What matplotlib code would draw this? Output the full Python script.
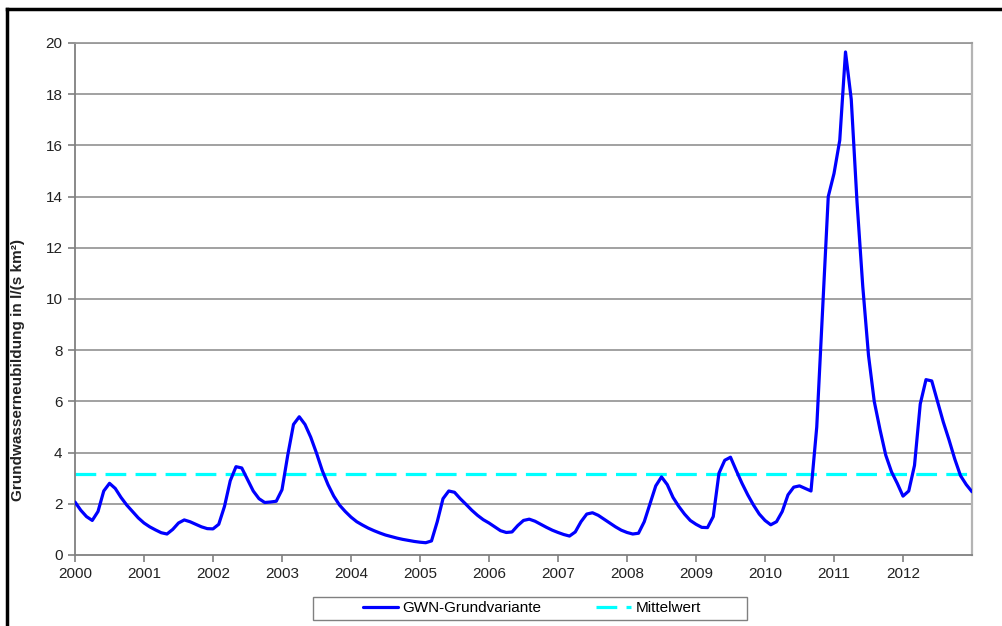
'''Grundwasserneubildung 2000-2012, Monatswerte mit Mittelwert'''
import matplotlib
matplotlib.use('Agg')
import matplotlib.pyplot as plt
from matplotlib.lines import Line2D
from matplotlib.patches import Rectangle

plt.rcParams['font.family'] = ['Liberation Sans', 'DejaVu Sans']

# Monatswerte ab Januar 2000, in l/(s km²)
gwn_2000 = [2.07, 1.75, 1.5, 1.35, 1.7, 2.5, 2.8, 2.6, 2.25, 1.95, 1.7, 1.45]
gwn_2001 = [1.25, 1.1, 0.98, 0.87, 0.82, 1.0, 1.25, 1.37, 1.3, 1.2, 1.1, 1.03]
gwn_2002 = [1.02, 1.2, 1.9, 2.9, 3.45, 3.4, 2.95, 2.5, 2.2, 2.05, 2.07, 2.1]
gwn_2003 = [2.55, 3.9, 5.1, 5.4, 5.1, 4.6, 3.98, 3.3, 2.75, 2.3, 1.95, 1.7]
gwn_2004 = [1.48, 1.3, 1.17, 1.05, 0.95, 0.86, 0.78, 0.72, 0.66, 0.61, 0.57, 0.53]
gwn_2005 = [0.5, 0.48, 0.55, 1.3, 2.2, 2.5, 2.45, 2.2, 1.98, 1.75, 1.55, 1.38]
gwn_2006 = [1.25, 1.1, 0.95, 0.88, 0.9, 1.15, 1.35, 1.4, 1.32, 1.2, 1.08, 0.97]
gwn_2007 = [0.88, 0.8, 0.74, 0.9, 1.3, 1.6, 1.65, 1.55, 1.4, 1.25, 1.1, 0.97]
gwn_2008 = [0.88, 0.82, 0.85, 1.3, 2.0, 2.7, 3.05, 2.75, 2.25, 1.9, 1.6, 1.35]
gwn_2009 = [1.2, 1.08, 1.07, 1.5, 3.2, 3.7, 3.82, 3.3, 2.8, 2.35, 1.95, 1.6]
gwn_2010 = [1.35, 1.18, 1.3, 1.7, 2.35, 2.65, 2.7, 2.6, 2.5, 5.0, 9.5, 14.0]
gwn_2011 = [14.9, 16.2, 19.65, 17.8, 13.8, 10.5, 7.8, 6.0, 4.9, 3.9, 3.25, 2.8]
gwn_2012 = [2.3, 2.5, 3.5, 5.9, 6.85, 6.8, 6.0, 5.2, 4.5, 3.75, 3.1, 2.75, 2.47]

mittelwert = 3.15
jahre = list(range(2000, 2013))
y_ticks = list(range(0, 21, 2))

gwn = (gwn_2000 + gwn_2001 + gwn_2002 + gwn_2003 + gwn_2004 + gwn_2005 + gwn_2006
       + gwn_2007 + gwn_2008 + gwn_2009 + gwn_2010 + gwn_2011 + gwn_2012)
zeit = [2000 + i / 12 for i in range(len(gwn))]

fig = plt.figure(figsize=(10.02, 6.26), dpi=100)
ax = fig.add_axes([75 / 1002, 71 / 626, 897 / 1002, 512 / 626])

for y in y_ticks[1:]:
    ax.axhline(y, color='#9a9a9a', lw=1.3, zorder=1)

ax.plot(zeit, gwn, color='#0000ff', lw=2.3, solid_joinstyle='round',
        solid_capstyle='round', zorder=3, label='GWN-Grundvariante')
ax.plot([2000, 2013], [mittelwert, mittelwert], color='#00ffff', lw=2.3,
        dashes=(6.5, 2.9), zorder=2, label='Mittelwert')

ax.set_xlim(2000, 2013)
ax.set_ylim(0, 20)
ax.set_xticks(jahre)
ax.set_xticklabels([str(j) for j in jahre])
ax.set_yticks(y_ticks)
ax.tick_params(axis='both', labelsize=11, colors='#808080', labelcolor='#222222',
               length=5, width=1.2, direction='out')
ax.tick_params(axis='x', pad=4)
ax.tick_params(axis='y', pad=4)

for seite in ['left', 'bottom']:
    ax.spines[seite].set_color('#808080')
    ax.spines[seite].set_linewidth(1.3)
ax.spines['right'].set_color('#b4b4b4')
ax.spines['right'].set_linewidth(1.6)
ax.spines['top'].set_color('#9a9a9a')
ax.spines['top'].set_linewidth(1.3)

fig.text(18 / 1002, 1 - 370 / 626, 'Grundwasserneubildung in l/(s km²)',
         rotation=90, ha='center', va='center', fontsize=11, fontweight='bold',
         color='#222222')

# Legendenrahmen
fig.patches.append(Rectangle((313 / 1002, 1 - 620 / 626), 434 / 1002, 23 / 626,
                             transform=fig.transFigure, facecolor='white',
                             edgecolor='#808080', lw=1.0))
fig.legend(loc='center', bbox_to_anchor=(532 / 1002, 1 - 608.5 / 626), ncol=2,
           frameon=False, fontsize=11, handlelength=2.3, handletextpad=0.25,
           columnspacing=3.6)

# schwarzer Rahmen um die Grafik
fig.lines.append(Line2D([7 / 1002, 1.0], [1 - 9 / 626, 1 - 9 / 626],
                        transform=fig.transFigure, color='black', lw=2.5))
fig.lines.append(Line2D([7 / 1002, 7 / 1002], [0, 1 - 9 / 626],
                        transform=fig.transFigure, color='black', lw=2.5))

fig.savefig('out.png', dpi=100)
